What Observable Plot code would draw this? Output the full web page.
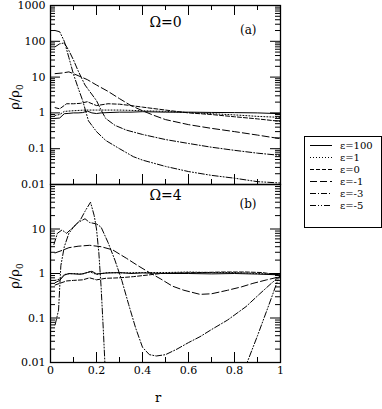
<!DOCTYPE html>
<html><head><meta charset="utf-8">
<script src="https://cdn.jsdelivr.net/npm/d3@7"></script>
<script src="https://cdn.jsdelivr.net/npm/@observablehq/plot@0.6"></script>
<style>
body{margin:0;background:#fff;}
#wrap{position:relative;width:382px;height:409px;font-family:"DejaVu Serif",serif;color:#000;}
.abs{position:absolute;}
svg{overflow:visible}
</style></head><body><div id="wrap"></div>
<script>
const xTicks=[0,0.2,0.4,0.6,0.8,1];
const xMinorTicks=[0.1,0.3,0.5,0.7,0.9];
const topYTicks=[0.01,0.1,1,10,100,1000];
const bottomYTicks=[0.01,0.1,1,10,100];
const topYLabels=[0.01,0.1,1,10,100,1000];
const bottomYLabels=[0.01,0.1,1,10];
const seriesNames=["ε=100","ε=1","ε=0","ε=-1","ε=-3","ε=-5"];
const seriesDashes=[null,"1,2","4,2","7,3","6,2,1,2","6,2,1,2,1,2"];
const panelTitles=["Ω=0","Ω=4"];
const panelTags=["(a)","(b)"];

// Panel (a): Ω=0   [r, ρ/ρ0]
const top_e100=[[0.02,0.7],[0.04,0.72],[0.06,0.95],[0.08,0.97],[0.1,1.0],[0.12,1.0],[0.14,1.02],[0.16,1.12],[0.18,1.0],[0.2,0.96],[0.22,1.0],[0.25,1.02],[0.3,1.05],[0.35,1.05],[0.4,1.08],[0.5,1.05],[0.6,1.05],[0.7,1.03],[0.8,1.02],[0.9,1.0],[1.0,0.95]];
const top_e1=[[0.02,0.85],[0.04,0.9],[0.06,1.1],[0.1,1.15],[0.15,1.2],[0.2,1.2],[0.3,1.2],[0.4,1.15],[0.5,1.1],[0.6,1.02],[0.7,0.95],[0.8,0.88],[0.9,0.8],[1.0,0.75]];
const top_e0=[[0.02,1.4],[0.04,1.3],[0.07,1.8],[0.1,1.8],[0.13,1.85],[0.16,2.05],[0.2,1.6],[0.25,1.8],[0.3,1.75],[0.35,1.6],[0.4,1.45],[0.5,1.2],[0.6,1.0],[0.7,0.9],[0.8,0.78],[0.9,0.68],[1.0,0.58]];
const top_em1=[[0.02,12.5],[0.05,13],[0.08,14],[0.12,11],[0.16,8.5],[0.2,6],[0.25,4],[0.3,2.5],[0.35,1.6],[0.4,1.15],[0.45,0.85],[0.5,0.65],[0.6,0.47],[0.7,0.37],[0.8,0.3],[0.9,0.24],[1.0,0.19]];
const top_em3=[[0.02,70],[0.04,85],[0.06,90],[0.08,55],[0.1,30],[0.12,15],[0.15,6],[0.2,2.2],[0.22,1.2],[0.24,0.7],[0.28,0.45],[0.33,0.33],[0.4,0.25],[0.5,0.18],[0.6,0.14],[0.7,0.11],[0.8,0.09],[0.9,0.075],[1.0,0.065]];
const top_em5=[[0.02,200],[0.04,185],[0.06,100],[0.08,35],[0.1,12],[0.12,5],[0.14,2.2],[0.165,0.6],[0.2,0.3],[0.24,0.17],[0.3,0.1],[0.36,0.06],[0.4,0.048],[0.5,0.032],[0.6,0.023],[0.7,0.018],[0.8,0.015],[0.9,0.012],[1.0,0.011]];

// Panel (b): Ω=4
const bot_e100=[[0.02,0.62],[0.04,0.7],[0.06,0.92],[0.08,1.0],[0.1,0.98],[0.13,0.96],[0.16,1.05],[0.18,1.12],[0.2,0.98],[0.24,1.02],[0.3,1.05],[0.35,1.0],[0.4,1.03],[0.5,1.0],[0.6,1.0],[0.7,0.98],[0.8,1.0],[0.9,0.97],[1.0,0.93]];
const bot_e1=[[0.02,0.7],[0.04,0.75],[0.06,0.95],[0.08,0.98],[0.1,1.0],[0.14,0.97],[0.17,1.1],[0.2,0.95],[0.25,1.05],[0.3,1.03],[0.4,1.05],[0.5,1.05],[0.6,1.08],[0.7,1.05],[0.8,1.05],[0.9,1.0],[1.0,0.95]];
const bot_e0=[[0.02,0.55],[0.04,0.6],[0.07,0.68],[0.1,0.7],[0.14,0.72],[0.17,0.8],[0.2,0.72],[0.24,0.78],[0.3,0.8],[0.36,0.85],[0.42,0.92],[0.48,1.0],[0.55,1.03],[0.65,1.05],[0.75,1.08],[0.85,1.08],[0.92,1.05],[1.0,0.92]];
const bot_em1=[[0.02,2.9],[0.05,3.3],[0.08,3.8],[0.12,4.1],[0.17,4.3],[0.22,4.0],[0.27,3.4],[0.33,2.2],[0.38,1.5],[0.43,1.05],[0.48,0.75],[0.53,0.52],[0.58,0.42],[0.65,0.34],[0.7,0.35],[0.77,0.42],[0.83,0.5],[0.88,0.6],[0.94,0.72],[1.0,0.85]];
const bot_em3=[[0.015,4.5],[0.03,8],[0.05,9.5],[0.07,8],[0.09,10],[0.12,14],[0.15,17],[0.17,14],[0.2,13],[0.22,11],[0.25,5],[0.28,2],[0.31,0.7],[0.34,0.2],[0.37,0.06],[0.4,0.022],[0.43,0.015],[0.46,0.014],[0.5,0.015],[0.55,0.02],[0.6,0.028],[0.65,0.038],[0.7,0.055],[0.77,0.09],[0.85,0.18],[0.91,0.35],[0.96,0.6],[1.0,0.9]];
const bot_em5=[[0.02,0.07],[0.035,0.15],[0.045,1.5],[0.06,4],[0.08,8],[0.1,11],[0.13,16],[0.15,25],[0.174,40],[0.19,20],[0.2,10],[0.21,3],[0.22,0.5],[0.23,0.05],[0.24,0.004],[0.3,0.0005],[0.6,0.0002],[0.8,0.001],[0.83,0.004],[0.855,0.01],[0.9,0.04],[0.95,0.2],[0.99,0.75],[1.0,0.9]];

const topData=[top_e100,top_e1,top_e0,top_em1,top_em3,top_em5];
const botData=[bot_e100,bot_e1,bot_e0,bot_em1,bot_em3,bot_em5];

function minorLog(lo,hi){const out=[];for(let e=lo;e<hi;e++){for(let k=2;k<=9;k++)out.push(k*Math.pow(10,e));}return out;}

const W=290, ML=50, MR=10, PW=W-ML-MR;
const MAJ=10, MIN=5;

function panel({data,domain,yTicks,yLabels,height,mt,mb,title,tag,titleDy,tagDy,topTicks,xAxis}){
  const PH=height-mt-mb;
  const minors=minorLog(Math.round(Math.log10(domain[0])),Math.round(Math.log10(domain[1])));
  const marks=[];
  data.forEach((d,i)=>marks.push(Plot.line(d,{x:e=>e[0],y:e=>e[1],stroke:"black",strokeWidth:1,strokeDasharray:seriesDashes[i],clip:true})));
  marks.push(Plot.tickY(yTicks,{y:d=>d,insetRight:PW-MAJ,strokeWidth:1}));
  marks.push(Plot.tickY(yTicks,{y:d=>d,insetLeft:PW-MAJ,strokeWidth:1}));
  marks.push(Plot.tickY(minors,{y:d=>d,insetRight:PW-MIN,strokeWidth:1}));
  marks.push(Plot.tickY(minors,{y:d=>d,insetLeft:PW-MIN,strokeWidth:1}));
  marks.push(Plot.tickX(xTicks,{x:d=>d,insetTop:PH-MAJ,strokeWidth:1}));
  marks.push(Plot.tickX(xMinorTicks,{x:d=>d,insetTop:PH-MIN,strokeWidth:1}));
  if(topTicks){
    marks.push(Plot.tickX(xTicks,{x:d=>d,insetBottom:PH-MAJ,strokeWidth:1}));
    marks.push(Plot.tickX(xMinorTicks,{x:d=>d,insetBottom:PH-MIN,strokeWidth:1}));
  }
  marks.push(Plot.axisY({ticks:yLabels,tickSize:0,tickPadding:5,tickFormat:d=>String(d),label:null}));
  if(xAxis) marks.push(Plot.axisX({ticks:xTicks,tickSize:0,tickPadding:4,tickFormat:d=>String(d),label:null}));
  marks.push(Plot.frame({stroke:"black",strokeWidth:1.3}));
  marks.push(Plot.text([title],{text:d=>d,frameAnchor:"top",dy:titleDy,fontSize:14}));
  marks.push(Plot.text([tag],{text:d=>d,frameAnchor:"top-right",dx:-24,dy:tagDy,fontSize:12}));
  return Plot.plot({
    width:W,height,marginLeft:ML,marginRight:MR,marginTop:mt,marginBottom:mb,
    x:{domain:[0,1],axis:xAxis?undefined:null,label:null},
    y:{type:"log",domain,label:null},
    style:{fontFamily:"DejaVu Serif",fontSize:"11px",background:"transparent",overflow:"visible",color:"black"},
    marks
  });
}

const wrap=document.getElementById("wrap");
const p1=panel({data:topData,domain:[0.01,1000],yTicks:topYTicks,yLabels:topYLabels,height:184,mt:5,mb:0,title:panelTitles[0],tag:panelTags[0],titleDy:12,tagDy:20,topTicks:true,xAxis:false});
p1.style.position="absolute";p1.style.left="0px";p1.style.top="0px";
wrap.appendChild(p1);
const p2=panel({data:botData,domain:[0.01,100],yTicks:bottomYTicks,yLabels:bottomYLabels,height:225,mt:0,mb:47,title:panelTitles[1],tag:panelTags[1],titleDy:6,tagDy:15,topTicks:false,xAxis:true});
p2.style.position="absolute";p2.style.left="0px";p2.style.top="184px";
wrap.appendChild(p2);

// y-axis titles
[97,276].forEach(cy=>{
  const d=document.createElement("div");
  d.className="abs";
  d.style.left="16px";d.style.top=cy+"px";
  d.style.transform="translate(-50%,-50%) rotate(-90deg)";
  d.style.fontSize="13px";d.style.whiteSpace="nowrap";
  d.innerHTML="ρ/ρ<sub style='font-size:9px'>0</sub>";
  wrap.appendChild(d);
});
// x-axis title
const xl=document.createElement("div");
xl.className="abs";xl.style.left="158px";xl.style.top="397px";
xl.style.transform="translate(-50%,-50%)";xl.style.fontSize="13px";xl.textContent="r";
wrap.appendChild(xl);

// legend
const lg=document.createElement("div");
lg.className="abs";
Object.assign(lg.style,{left:"304px",top:"136px",width:"78px",height:"92px",border:"1px solid #000",boxSizing:"border-box",background:"#fff"});
wrap.appendChild(lg);
const ls=d3.select(lg).append("svg").attr("width",76).attr("height",90).style("font-family","DejaVu Serif").style("font-size","10px");
seriesNames.forEach((n,i)=>{
  const y=8.5+i*12;
  ls.append("line").attr("x1",5).attr("x2",27).attr("y1",y).attr("y2",y).attr("stroke","#000").attr("stroke-width",1).attr("stroke-dasharray",seriesDashes[i]);
  ls.append("text").attr("x",35).attr("y",y).attr("dy","0.35em").text(n);
});
</script>
</body></html>
